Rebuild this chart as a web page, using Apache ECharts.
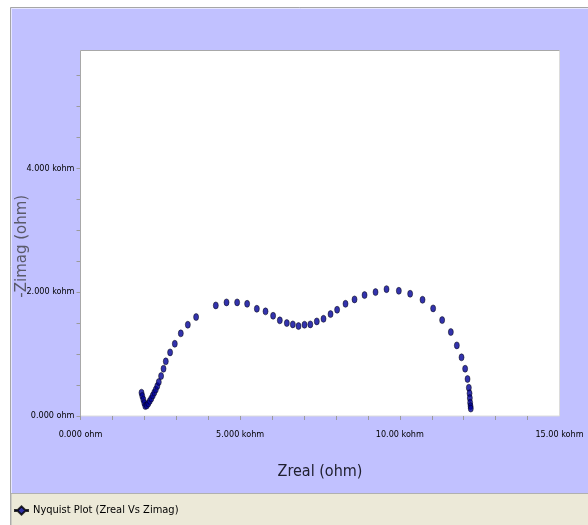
<!DOCTYPE html>
<html>
<head>
<meta charset="utf-8">
<script src="https://cdn.jsdelivr.net/npm/echarts@6/dist/echarts.min.js"></script>
<style>
  html, body { margin: 0; padding: 0; background: #ffffff; }
  #chart { width: 588px; height: 525px; }
</style>
</head>
<body>
<div id="chart"></div>
<script>
// Impedance spectrum (Nyquist representation), values in ohm
const zReal = [
  1910, 1935, 1967, 1998, 2029, 2076, 2123, 2170, 2217, 2264, 2311, 2358, 2405, 2452,
  2524, 2600, 2671, 2806, 2953, 3141, 3361, 3620, 4237, 4573, 4905, 5218, 5522, 5794,
  6032, 6242, 6461, 6649, 6827, 7015, 7197, 7400, 7610, 7830, 8036, 8299, 8581, 8895,
  9239, 9583, 9969, 10323, 10711, 11043, 11325, 11597, 11785, 11932, 12045, 12120,
  12161, 12183, 12192, 12202, 12214, 12222
];
const zImagNeg = [
  376, 323, 266, 210, 161, 169, 202, 242, 282, 331, 379, 427, 484, 548,
  645, 763, 882, 1027, 1166, 1334, 1473, 1597, 1785, 1834, 1834, 1811, 1731, 1689,
  1618, 1544, 1500, 1479, 1452, 1473, 1479, 1527, 1569, 1645, 1715, 1811, 1882, 1952,
  2000, 2048, 2021, 1973, 1876, 1737, 1548, 1355, 1140, 947, 763, 597,
  456, 366, 290, 215, 160, 120
];

// Axis ticks and their labels
const xTickValues = [0, 1000, 2000, 3000, 4000, 5000, 6000, 7000, 8000, 9000, 10000, 11000, 12000, 13000, 14000];
const xLabelValues = [0, 5000, 10000, 15000];
const xLabelTexts = ['0.000 ohm', '5.000 kohm', '10.00 kohm', '15.00 kohm'];
const yTickValues = [0, 500, 1000, 1500, 2000, 2500, 3000, 3500, 4000, 4500, 5000, 5500];
const yLabelValues = [0, 2000, 4000];
const yLabelTexts = ['0.000 ohm', '2.000 kohm', '4.000 kohm'];

const seriesName = 'Nyquist Plot (Zreal Vs Zimag)';
const narrow = "'Liberation Sans Narrow', 'DejaVu Sans Condensed', 'Arial Narrow', sans-serif";

const points = zReal.map((x, i) => [x, zImagNeg[i]]);

function labelFor(values, texts) {
  return v => {
    const k = values.indexOf(v);
    return k >= 0 ? texts[k] : '';
  };
}

const chart = echarts.init(document.getElementById('chart'), null, { renderer: 'canvas' });

chart.setOption({
  animation: false,
  backgroundColor: '#ffffff',
  graphic: [
    // outer panel
    { type: 'rect', silent: true, z: -10,
      shape: { x: 10.5, y: 7.5, width: 590, height: 530 },
      style: { fill: '#c1c1ff', stroke: '#a6a6a6', lineWidth: 1 } },
    { type: 'polyline', silent: true, z: -9,
      shape: { points: [[11.5, 600], [11.5, 8.5], [600, 8.5]] },
      style: { stroke: '#e6e6ff', lineWidth: 1, fill: null } },
    // legend strip
    { type: 'rect', silent: true, z: -8,
      shape: { x: 11, y: 493.5, width: 590, height: 40 },
      style: { fill: '#ece9d8', stroke: '#b0b0b0', lineWidth: 1 } },
    // darker top/left edge of the plotting area
    { type: 'polyline', silent: true, z: 10,
      shape: { points: [[80.5, 416], [80.5, 50.5], [559.5, 50.5]] },
      style: { stroke: '#a8a8a8', lineWidth: 1, fill: null } }
  ],
  grid: {
    left: 80.5, top: 50.5, right: 28.5, bottom: 109,
    outerBoundsMode: 'none',
    containLabel: false,
    show: true,
    backgroundColor: '#ffffff',
    borderColor: '#dcdcdc',
    borderWidth: 1
  },
  legend: {
    data: [{ name: seriesName,
      icon: 'path://M0,4 L3,4 L7,0 L11,4 L14,4 L14,5 L11,5 L7,9 L3,5 L0,5 Z' }],
    left: 14, top: 505, padding: 0,
    itemWidth: 13, itemHeight: 9, itemGap: 4,
    textStyle: { fontFamily: narrow, fontSize: 11, color: '#000000', padding: [0, 0, 0, 0] }
  },
  xAxis: {
    type: 'value',
    min: 0, max: 15000,
    name: 'Zreal (ohm)',
    nameLocation: 'middle',
    nameGap: 48,
    nameTextStyle: { fontFamily: narrow, fontSize: 16, color: '#202030' },
    axisLine: { show: false },
    axisTick: { show: true, customValues: xTickValues, length: 4, inside: false,
      lineStyle: { color: '#9a9a9a', width: 1 } },
    axisLabel: { show: true, customValues: xLabelValues, margin: 14,
      formatter: labelFor(xLabelValues, xLabelTexts),
      fontFamily: narrow, fontSize: 9, color: '#000000' },
    splitLine: { show: false }
  },
  yAxis: {
    type: 'value',
    min: 0, max: 5900,
    name: '-Zimag (ohm)',
    nameLocation: 'middle',
    nameGap: 51,
    nameMoveOverlap: false,
    nameTextStyle: { fontFamily: "'DejaVu Sans', sans-serif", fontSize: 15, color: '#5a5a6a',
      padding: [0, 26, 0, 0] },
    axisLine: { show: false },
    axisTick: { show: true, customValues: yTickValues, length: 4, inside: false,
      lineStyle: { color: '#9a9a9a', width: 1 } },
    axisLabel: { show: true, customValues: yLabelValues, margin: 6,
      formatter: labelFor(yLabelValues, yLabelTexts),
      fontFamily: narrow, fontSize: 9, color: '#000000' },
    splitLine: { show: false }
  },
  series: [{
    name: seriesName,
    type: 'scatter',
    data: points,
    symbol: 'circle',
    symbolSize: [5, 7],
    itemStyle: { color: '#000098', borderColor: '#000000', borderWidth: 0.6 },
    emphasis: { disabled: true }
  }]
});
</script>
</body>
</html>
